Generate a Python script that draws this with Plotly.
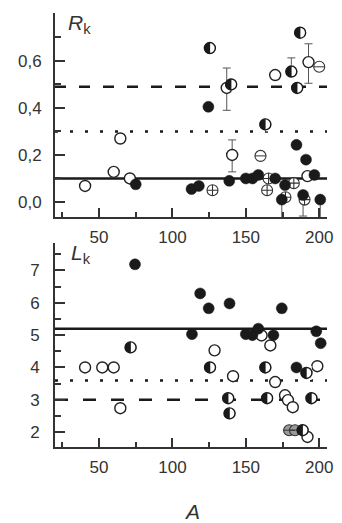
import plotly.graph_objects as go

# ---------------- data ----------------
# Top panel: R_k vs A
r_filled_x = [124.5, 75, 113, 118, 138.7, 150, 154.5, 158.5, 170, 176.7, 174.5, 184.5, 191, 189, 196.7, 200.7]
r_filled_y = [0.405, 0.075, 0.055, 0.068, 0.09, 0.10, 0.10, 0.115, 0.10, 0.072, 0.01, 0.243, 0.18, 0.03, 0.115, 0.01]
r_open_x = [40.5, 60, 64.5, 71, 137, 140.7, 170, 192.7, 192]
r_open_y = [0.068, 0.128, 0.27, 0.10, 0.485, 0.20, 0.54, 0.595, 0.11]
r_half_x = [125.5, 140, 181, 185, 187, 163.3]
r_half_y = [0.655, 0.50, 0.555, 0.485, 0.72, 0.33]
r_cross_x = [127.3, 164.5, 165.5, 177, 182.7, 190]
r_cross_y = [0.05, 0.05, 0.10, 0.02, 0.08, 0.01]
r_stripe_x = [160, 200]
r_stripe_y = [0.196, 0.575]
# error bars (top)
r_err_x = [137, 140.7, 181, 192.7, 174.5, 189, 200.7]
r_err_y = [0.485, 0.20, 0.555, 0.595, 0.01, 0.03, 0.01]
r_err_plus = [0.085, 0.064, 0.058, 0.078, 0.0, 0.0, 0.0]
r_err_minus = [0.095, 0.072, 0.0, 0.09, 0.08, 0.09, 0.08]
r_levels = [0.49, 0.30, 0.10]
r_level_dash = ["11px,13px", "3px,12px", "solid"]

# Bottom panel: L_k vs A
l_filled_x = [74.5, 118.9, 124.7, 138.9, 174.5, 113.3, 150, 154.5, 158.5, 168.8, 198, 201, 184.5]
l_filled_y = [7.19, 6.29, 5.83, 5.98, 5.83, 5.03, 5.03, 5.0, 5.2, 5.0, 5.12, 4.75, 4.0]
l_open_x = [40.5, 52.2, 60, 64.5, 128.7, 141.3, 160.7, 166.7, 170, 176.7, 178.7, 182, 198.7, 192]
l_open_y = [4.0, 4.0, 4.0, 2.74, 4.53, 3.73, 4.99, 4.68, 3.55, 3.14, 2.99, 2.77, 4.04, 1.85]
l_half_x = [71.5, 125.6, 163.3, 191.3, 138, 138.9, 164.5, 194.7, 188.7]
l_half_y = [4.62, 4.0, 4.0, 3.83, 3.05, 2.58, 3.05, 3.05, 2.06]
l_stripe_x = [179.5, 183.5]
l_stripe_y = [2.06, 2.06]
l_levels = [5.2, 3.6, 3.0]
l_level_dash = ["solid", "3px,12px", "13px,15px"]

x_range = [20, 205.3]
r_range = [-0.064, 0.804]
l_range = [1.54, 7.85]
r_ticks = [0.0, 0.2, 0.4, 0.6]
r_ticktext = ["0,0", "0,2", "0,4", "0,6"]
l_ticks = [2, 3, 4, 5, 6, 7]
x_ticks = [50, 100, 150, 200]

INK = "#1a1a1a"
AX = "#333333"
FONT = "Liberation Sans, Arial, sans-serif"
MS = 11  # marker size (px)

fig = go.Figure()


def sc(x, y, xa, ya, marker):
    fig.add_trace(go.Scatter(x=x, y=y, xaxis=xa, yaxis=ya, mode="markers", marker=marker,
                             showlegend=False, hoverinfo="skip"))


def add_panel(xa, ya, fx, fy, ox, oy, hx, hy, sx, sy, cx=None, cy=None, stripe_fill="white"):
    sc(ox, oy, xa, ya, dict(symbol="circle", size=MS, color="white",
                            line=dict(color="#222", width=1.4)))
    if cx:
        sc(cx, cy, xa, ya, dict(symbol="circle-cross", size=MS, color="white",
                                line=dict(color="#333", width=1.1)))
    sc(sx, sy, xa, ya, dict(symbol="circle", size=MS, color=stripe_fill,
                            line=dict(color="#333", width=1.1)))
    sc(sx, sy, xa, ya, dict(symbol="line-ew", size=MS - 3, line=dict(color="#333", width=1)))
    sc(fx, fy, xa, ya, dict(symbol="circle", size=MS, color=INK, line=dict(color=INK, width=0.5)))
    # half-filled: black disc, white cover over the left half, then outline
    sc(hx, hy, xa, ya, dict(symbol="circle", size=MS, color=INK, line=dict(color=INK, width=0.5)))
    sc(hx, hy, xa, ya, dict(symbol="line-ew", size=MS - 1, angle=-90, standoff=MS / 4,
                            line=dict(color="white", width=MS / 2 - 0.5)))
    sc(hx, hy, xa, ya, dict(symbol="circle-open", size=MS, color=INK,
                            line=dict(color=INK, width=1.4)))


sc(r_err_x, r_err_y, "x", "y", dict(size=1, color="rgba(0,0,0,0)"))
fig.data[-1].error_y = dict(type="data", symmetric=False, array=r_err_plus,
                            arrayminus=r_err_minus, color="#555", thickness=1, width=4)

add_panel("x", "y", r_filled_x, r_filled_y, r_open_x, r_open_y, r_half_x, r_half_y,
          r_stripe_x, r_stripe_y, r_cross_x, r_cross_y)
add_panel("x2", "y2", l_filled_x, l_filled_y, l_open_x, l_open_y, l_half_x, l_half_y,
          l_stripe_x, l_stripe_y, stripe_fill="#9a9a9a")

shapes = []
for lev, d in zip(r_levels, r_level_dash):
    shapes.append(dict(type="line", xref="x domain", yref="y", x0=0, x1=1, y0=lev, y1=lev,
                       layer="below", line=dict(color=INK, width=2.5, dash=d)))
for lev, d in zip(l_levels, l_level_dash):
    shapes.append(dict(type="line", xref="x2 domain", yref="y2", x0=0, x1=1, y0=lev, y1=lev,
                       layer="below", line=dict(color=INK, width=2.5, dash=d)))

axis_common = dict(showline=True, linecolor=AX, linewidth=2, mirror=False, showgrid=False,
                   zeroline=False, ticks="inside", tickcolor=AX, tickwidth=1.5,
                   tickfont=dict(family=FONT, size=17, color="#333"))

top_dom = [(447 - 217) / 434, 1.0]
bot_dom = [0.0, (447 - 243) / 434]

fig.update_layout(
    width=342, height=523,
    margin=dict(l=55, r=9, t=13, b=76),
    paper_bgcolor="white", plot_bgcolor="white",
    shapes=shapes,
    xaxis=dict(domain=[0, 1], anchor="y", range=x_range, tickvals=x_ticks, ticklen=9,
               minor=dict(dtick=25, tick0=0, ticklen=5, ticks="inside", tickcolor=AX, tickwidth=1.5),
               ticklabelstandoff=4, **axis_common),
    yaxis=dict(domain=top_dom, anchor="x", range=r_range, tickvals=r_ticks, ticktext=r_ticktext,
               ticklen=10,
               minor=dict(dtick=0.1, tick0=0, ticklen=6, ticks="inside", tickcolor=AX, tickwidth=1.5),
               ticklabelstandoff=8, **axis_common),
    xaxis2=dict(domain=[0, 1], anchor="y2", range=x_range, tickvals=x_ticks, ticklen=9,
                minor=dict(dtick=25, tick0=0, ticklen=5, ticks="inside", tickcolor=AX, tickwidth=1.5),
                ticklabelstandoff=4, **axis_common),
    yaxis2=dict(domain=bot_dom, anchor="x2", range=l_range, tickvals=l_ticks, ticklen=10,
                minor=dict(dtick=0.5, tick0=0, ticklen=6, ticks="inside", tickcolor=AX, tickwidth=1.5),
                ticklabelstandoff=10, **axis_common),
    annotations=[
        dict(text="<i>R</i><sub>k</sub>", xref="paper", yref="paper",
             x=(66 - 55) / 278, y=(447 - 9) / 434, xanchor="left", yanchor="top",
             showarrow=False, font=dict(family=FONT, size=21, color="#333")),
        dict(text="<i>L</i><sub>k</sub>", xref="paper", yref="paper",
             x=(69 - 55) / 278, y=(447 - 239) / 434, xanchor="left", yanchor="top",
             showarrow=False, font=dict(family=FONT, size=21, color="#333")),
        dict(text="<i>A</i>", xref="paper", yref="paper",
             x=(195 - 55) / 278, y=(447 - 511) / 434, xanchor="center", yanchor="middle",
             showarrow=False, font=dict(family=FONT, size=21, color="#333")),
    ],
)

fig.write_html("out.html")
